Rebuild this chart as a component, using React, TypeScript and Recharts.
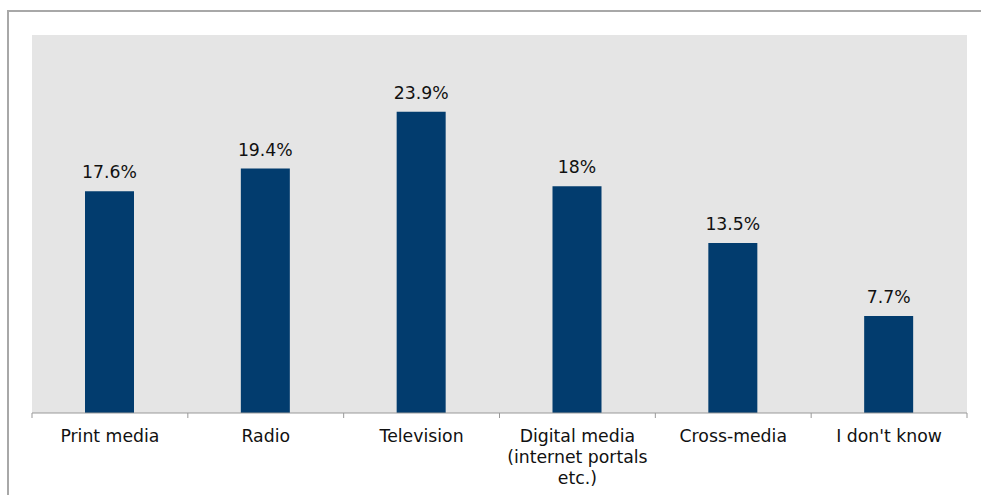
import React from "react";
import { BarChart, Bar, XAxis, YAxis, CartesianGrid, LabelList } from "recharts";

const categories = [
  "Print media",
  "Radio",
  "Television",
  "Digital media\n(internet portals\netc.)",
  "Cross-media",
  "I don't know",
];
const shares = [17.6, 19.4, 23.9, 18, 13.5, 7.7];

const data = categories.map((name, i) => ({ name, value: shares[i] }));

const FONT = "'DejaVu Sans', Verdana, sans-serif";
const AXIS_Y = 413;

// category label plus the boundary tick marks either side of the band
const CategoryTick = (props: any) => {
  const { x, y, payload, width, visibleTicksCount, index } = props;
  const band = width / visibleTicksCount;
  const lines = String(payload.value).split("\n");
  const left = x - band / 2;
  const right = x + band / 2;
  return (
    <g>
      <line x1={left} x2={left} y1={AXIS_Y} y2={AXIS_Y + 5} stroke="#999" />
      {index === visibleTicksCount - 1 && (
        <line x1={right} x2={right} y1={AXIS_Y} y2={AXIS_Y + 5} stroke="#999" />
      )}
      <text x={x} y={y} textAnchor="middle" fill="#111" fontSize={17.3} fontFamily={FONT}>
        {lines.map((line: string, i: number) => (
          <tspan key={i} x={x} dy={i === 0 ? 21 : 21}>
            {line}
          </tspan>
        ))}
      </text>
    </g>
  );
};

const App = () => {
  return (
    <div style={{ position: "absolute", left: 0, top: 0, width: 981, height: 495, background: "#fff" }}>
      <div
        style={{
          position: "absolute",
          left: 7,
          top: 10,
          width: 974,
          height: 485,
          borderTop: "2px solid #a8a8a8",
          borderLeft: "2px solid #a8a8a8",
          boxSizing: "border-box",
        }}
      />
      <div style={{ position: "absolute", left: 0, top: 0 }}>
        <BarChart
          width={981}
          height={495}
          data={data}
          margin={{ top: 35, right: 14, left: 32, bottom: 0 }}
          barCategoryGap={0}
        >
          <CartesianGrid fill="#e5e5e5" stroke="none" horizontal={false} vertical={false} />
          <XAxis
            dataKey="name"
            height={82}
            interval={0}
            tickLine={false}
            axisLine={{ stroke: "#999" }}
            tick={<CategoryTick />}
          />
          <YAxis hide domain={[0, 30]} />
          <Bar dataKey="value" fill="#023c6e" barSize={49} isAnimationActive={false}>
            <LabelList
              dataKey="value"
              position="top"
              offset={13}
              formatter={(v: any) => `${v}%`}
              fill="#111"
              fontSize={17.3}
              fontFamily={FONT}
            />
          </Bar>
        </BarChart>
      </div>
    </div>
  );
};

export default App;
